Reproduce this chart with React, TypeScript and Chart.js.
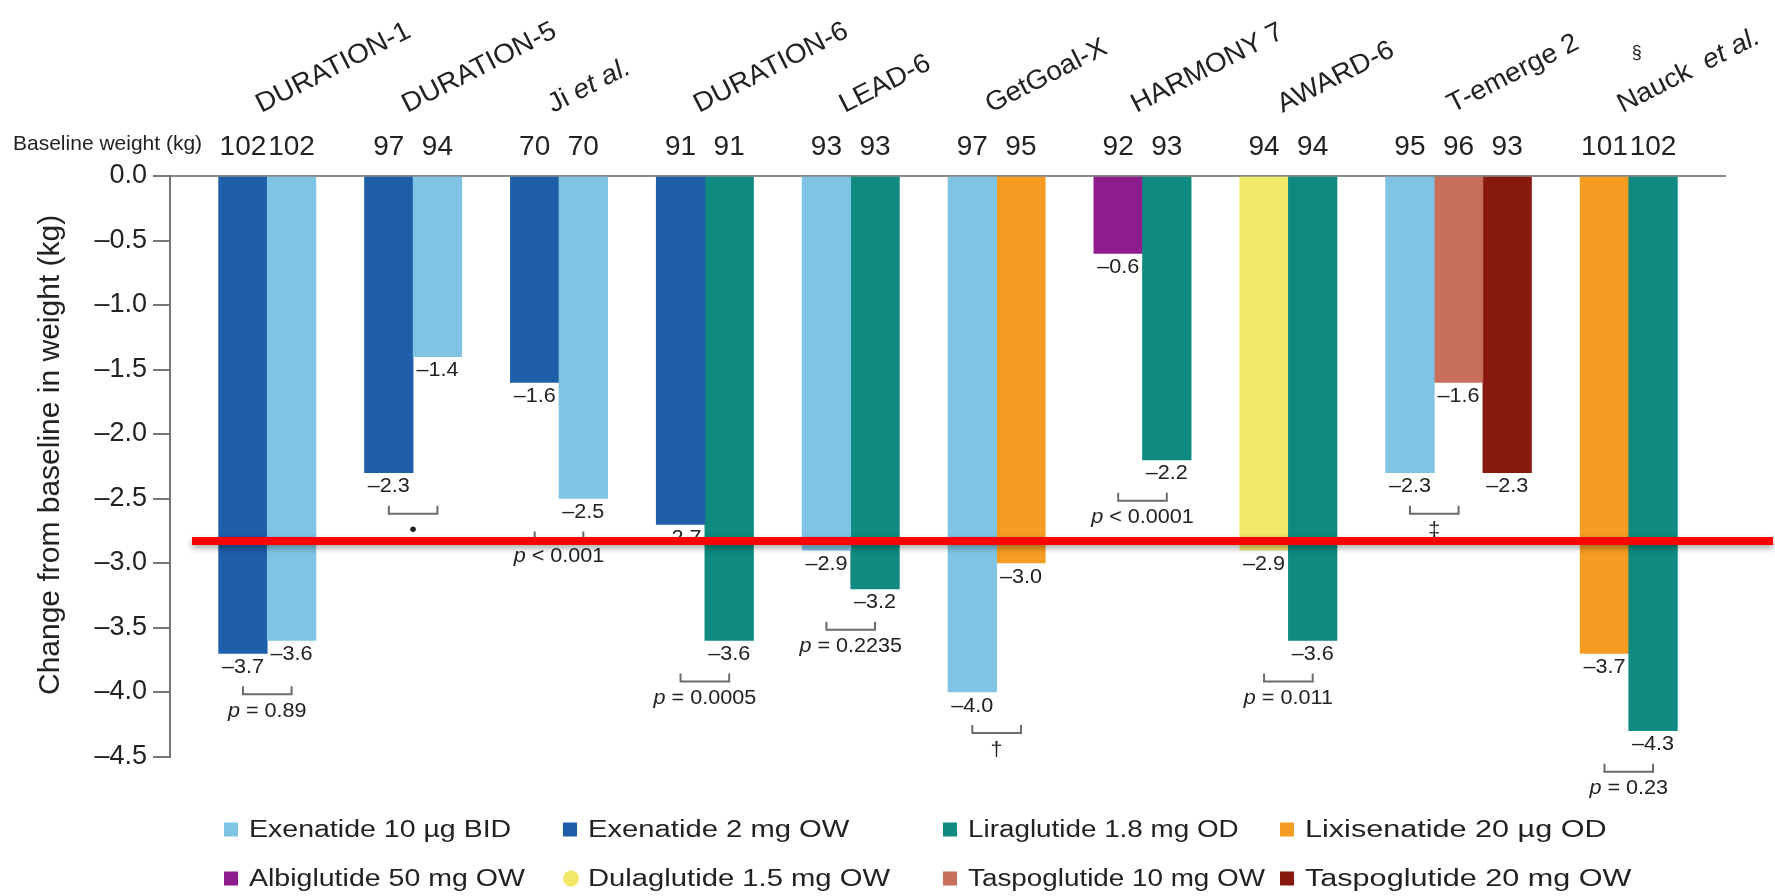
import React, { useEffect, useRef } from "react";
import { Chart, registerables } from "chart.js";

Chart.register(...registerables);

// ---------- data ----------
const studies = [
  "DURATION-1",
  "DURATION-5",
  "Ji et al.",
  "DURATION-6",
  "LEAD-6",
  "GetGoal-X",
  "HARMONY 7",
  "AWARD-6",
  "T-emerge 2",
  "Nauck et al.",
];

const drugs = [
  "Exenatide 10 µg BID",
  "Exenatide 2 mg OW",
  "Liraglutide 1.8 mg OD",
  "Lixisenatide 20 µg OD",
  "Albiglutide 50 mg OW",
  "Dulaglutide 1.5 mg OW",
  "Taspoglutide 10 mg OW",
  "Taspoglutide 20 mg OW",
];

const drugColors = [
  "#7fc4e4",
  "#1f5ea8",
  "#0e8a80",
  "#f59d22",
  "#8d1c8c",
  "#f1e86a",
  "#c76f5a",
  "#87190f",
];

// which drug each arm of each study uses (index into drugs)
const armDrug = [
  [1, 0],
  [1, 0],
  [1, 0],
  [1, 2],
  [0, 2],
  [0, 3],
  [4, 2],
  [5, 2],
  [0, 6, 7],
  [3, 2],
];

// change from baseline in weight (kg)
const armChange = [
  [-3.7, -3.6],
  [-2.3, -1.4],
  [-1.6, -2.5],
  [-2.7, -3.6],
  [-2.9, -3.2],
  [-4.0, -3.0],
  [-0.6, -2.2],
  [-2.9, -3.6],
  [-2.3, -1.6, -2.3],
  [-3.7, -4.3],
];

// baseline weight (kg)
const armBaseline = [
  [102, 102],
  [97, 94],
  [70, 70],
  [91, 91],
  [93, 93],
  [97, 95],
  [92, 93],
  [94, 94],
  [95, 96, 93],
  [101, 102],
];

// comparison bracket (between arm 0 and arm 1) and its annotation
const comparisonText = [
  "p = 0.89",
  "•",
  "p < 0.001",
  "p = 0.0005",
  "p = 0.2235",
  "†",
  "p < 0.0001",
  "p = 0.011",
  "‡",
  "p = 0.23",
];

const yMin = -4.5;
const yMax = 0;
const yStep = 0.5;
const highlightValue = -2.83; // red overlay line

// ---------- derived slot layout ----------
let slotCursor = 0;
const armSlot: number[][] = armDrug.map((arms) => {
  slotCursor++; // gap before each study
  return arms.map(() => slotCursor++);
});
const slotCount = slotCursor + 1; // trailing gap
const slotLabels = Array.from({ length: slotCount }, (_, i) => String(i));

const FONT = "'Liberation Sans', Arial, Helvetica, sans-serif";
const TEXT = "#222222";

type Seg = [string, boolean];

function segsFor(text: string): Seg[] {
  if (text.startsWith("p ")) return [["p", true], [text.slice(1), false]];
  const i = text.indexOf("et al.");
  if (i >= 0) {
    const pre = text.slice(0, i);
    return [
      [pre.trim() === "Nauck" ? "Nauck  " : pre, false],
      ["et al.", true],
    ];
  }
  return [[text, false]];
}

function drawRich(
  ctx: CanvasRenderingContext2D,
  segs: Seg[],
  x: number,
  y: number,
  size: number,
  sx: number,
  align: "left" | "center" | "right"
) {
  ctx.save();
  ctx.translate(x, y);
  ctx.scale(sx, 1);
  ctx.textAlign = "left";
  let total = 0;
  const widths = segs.map(([t, it]) => {
    ctx.font = `${it ? "italic " : ""}${size}px ${FONT}`;
    const w = ctx.measureText(t).width;
    total += w;
    return w;
  });
  let cx = align === "left" ? 0 : align === "center" ? -total / 2 : -total;
  segs.forEach(([t, it], k) => {
    ctx.font = `${it ? "italic " : ""}${size}px ${FONT}`;
    ctx.fillText(t, cx, 0);
    cx += widths[k];
  });
  ctx.restore();
}

const annotationPlugin = {
  id: "annotations",
  afterDraw(chart: any) {
    const ctx: CanvasRenderingContext2D = chart.ctx;
    const xs = chart.scales.x;
    const ys = chart.scales.y;
    const area = chart.chartArea;
    ctx.save();
    ctx.fillStyle = TEXT;

    // "Baseline weight (kg)" header
    ctx.textBaseline = "alphabetic";
    drawRich(ctx, [["Baseline weight (kg)", false]], 13, area.top - 26, 21, 1, "left");

    armDrug.forEach((arms, g) => {
      const px = armSlot[g].map((s) => xs.getPixelForValue(s));
      // baseline weights
      ctx.textBaseline = "alphabetic";
      arms.forEach((_, a) => {
        drawRich(ctx, [[String(armBaseline[g][a]), false]], px[a], area.top - 21, 28, 1, "center");
      });
      // study label, rotated
      const gc = (px[0] + px[px.length - 1]) / 2;
      ctx.save();
      ctx.translate(gc - 6, area.top - 63);
      ctx.rotate((-27 * Math.PI) / 180);
      ctx.fillStyle = TEXT;
      drawRich(ctx, segsFor(studies[g]), 0, 0, 27, 1.04, "left");
      ctx.restore();
      if (studies[g].startsWith("Nauck")) {
        drawRich(ctx, [["§", false]], gc + 8, area.top - 118, 18, 1, "center");
      }
      // value labels
      ctx.textBaseline = "middle";
      arms.forEach((_, a) => {
        const v = armChange[g][a];
        const lbl = "\u2013" + Math.abs(v).toFixed(1);
        drawRich(ctx, [[lbl, false]], px[a], ys.getPixelForValue(v) + 14, 20, 1.08, "center");
      });
      // comparison bracket between arm 0 and arm 1
      const low = Math.min(armChange[g][0], armChange[g][1]);
      const by = ys.getPixelForValue(low);
      ctx.strokeStyle = "#6b6b6b";
      ctx.lineWidth = 2;
      ctx.beginPath();
      ctx.moveTo(px[0], by + 33);
      ctx.lineTo(px[0], by + 41);
      ctx.lineTo(px[1], by + 41);
      ctx.lineTo(px[1], by + 33);
      ctx.stroke();
      drawRich(ctx, segsFor(comparisonText[g]), (px[0] + px[1]) / 2, by + 58, 20, 1.08, "center");
    });

    // legend (4 columns x 2 rows)
    const colX = [224, 563, 943, 1280];
    const colSx = [1.24, 1.27, 1.21, 1.33];
    const rowY = [area.bottom + 73, area.bottom + 122];
    ctx.textBaseline = "middle";
    drugs.forEach((name, d) => {
      const c = d % 4;
      const x = colX[c];
      const y = rowY[Math.floor(d / 4)];
      ctx.fillStyle = drugColors[d];
      if (name.startsWith("Dulaglutide")) {
        ctx.beginPath();
        ctx.arc(x + 8, y, 8, 0, Math.PI * 2);
        ctx.fill();
      } else {
        ctx.fillRect(x, y - 7, 14, 14);
      }
      ctx.fillStyle = TEXT;
      drawRich(ctx, [[name, false]], x + 25, y + 1, 23, colSx[c], "left");
    });

    // red overlay line
    const ry = ys.getPixelForValue(highlightValue);
    ctx.save();
    ctx.shadowColor = "rgba(0,0,0,0.35)";
    ctx.shadowBlur = 6;
    ctx.shadowOffsetY = 3;
    ctx.strokeStyle = "#ff0000";
    ctx.lineWidth = 8;
    ctx.beginPath();
    ctx.moveTo(area.left + 22, ry);
    ctx.lineTo(chart.width - 2, ry);
    ctx.stroke();
    ctx.restore();

    ctx.restore();
  },
};

export default function App() {
  const ref = useRef<HTMLCanvasElement | null>(null);

  useEffect(() => {
    if (!ref.current) return;
    Chart.defaults.font.family = FONT;
    const datasets = drugs.map((name, d) => {
      const data: (number | null)[] = new Array(slotCount).fill(null);
      armDrug.forEach((arms, g) =>
        arms.forEach((dd, a) => {
          if (dd === d) data[armSlot[g][a]] = armChange[g][a];
        })
      );
      return {
        label: name,
        data,
        backgroundColor: drugColors[d],
        borderWidth: 0,
        grouped: false,
        barPercentage: 1,
        categoryPercentage: 1,
      };
    });

    const chart = new Chart(ref.current, {
      type: "bar",
      data: { labels: slotLabels, datasets: datasets as any },
      options: {
        animation: false,
        responsive: false,
        devicePixelRatio: 1,
        events: [],
        layout: { padding: { top: 176, bottom: 139.5, left: 0, right: 49 } },
        plugins: {
          legend: { display: false },
          tooltip: { enabled: false },
          title: { display: false },
        },
        scales: {
          x: { type: "category", display: false, offset: true },
          y: {
            min: yMin,
            max: yMax,
            ticks: {
              stepSize: yStep,
              color: TEXT,
              font: { size: 27 },
              padding: 6,
              callback: (v: any) => {
                const n = Number(v);
                return n === 0 ? "0.0" : "\u2013" + Math.abs(n).toFixed(1);
              },
            },
            grid: {
              drawOnChartArea: true,
              color: (c: any) =>
                c.tick && Math.abs(c.tick.value) < 1e-9 ? "#8a8a8a" : "rgba(0,0,0,0)",
              lineWidth: 2,
              tickColor: "#777777",
              tickLength: 17,
              tickWidth: 2,
            },
            border: { display: true, color: "#777777", width: 2 },
            title: {
              display: true,
              text: "  \u2009Change from baseline in weight (kg)",
              color: TEXT,
              font: { size: 30 },
              padding: { top: 33, bottom: 0 },
            },
            afterFit: (s: any) => {
              s.width = 170;
            },
          } as any,
        },
      },
      plugins: [annotationPlugin],
    });
    return () => chart.destroy();
  }, []);

  return (
    <div style={{ position: "absolute", left: 0, top: 0, width: 1775, height: 896, background: "#fff" }}>
      <canvas ref={ref} width={1775} height={896} style={{ display: "block", width: 1775, height: 896 }} />
    </div>
  );
}
